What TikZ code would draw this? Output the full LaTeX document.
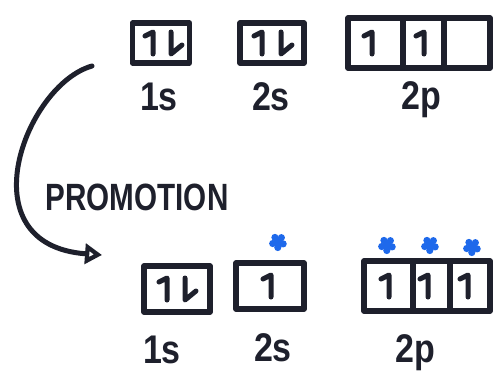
\documentclass[tikz,border=0pt]{standalone}
\usepackage{fontspec}
\setmainfont{Liberation Sans}
\usetikzlibrary{shapes.geometric,arrows.meta}
\definecolor{ink}{RGB}{30,32,44}
\definecolor{marker}{RGB}{30,105,235}
\begin{document}
\begin{tikzpicture}[x=1pt,y=-1pt,line cap=round,line join=round,
  orb/.style={draw=ink,line width=5.5pt,inner sep=0pt,outer sep=0pt},
  lbl/.style={text=ink,font=\bfseries\fontsize{40}{40}\selectfont,inner sep=0pt,xscale=0.85},
  elec/.style={draw=ink,line width=5pt},
  upspin/.pic={\draw[elec] (-8,-7) -- (0,-11) -- (0,11);},
  downspin/.pic={\draw[elec] (0,-11) -- (0,11) -- (11,2);},
  splat/.pic={\fill[marker] (0,0) circle (5);
    \foreach \a in {20,92,164,236,308}{\fill[marker] (\a:5.5) circle (3.6);}}]
\useasboundingbox (0,0) rectangle (493,380);
% top row
\node[orb,minimum width=57pt,minimum height=40pt] (t1s) at (161,43) {};
\node[orb,minimum width=64pt,minimum height=40pt] (t2s) at (272,43) {};
\node[orb,minimum width=55pt,minimum height=50pt] (t2pa) at (375.5,43) {};
\node[orb,minimum width=41pt,minimum height=50pt] (t2pb) at (423.5,43) {};
\node[orb,minimum width=46pt,minimum height=50pt] (t2pc) at (467,43) {};
\pic at (153,43) {upspin};
\pic at (171,43) {downspin};
\pic at (262,43) {upspin};
\pic at (281,43) {downspin};
\pic at (372,43) {upspin};
\pic at (424,43) {upspin};
\node[lbl] (lt1s) at (159,97) {1s};
\node[lbl] (lt2s) at (271,97) {2s};
\node[lbl] (lt2p) at (421,100) {2p};
% arrow
\node[text=ink,font=\bfseries\fontsize{38}{38}\selectfont,xscale=0.78,inner sep=0pt] (prom) at (137,197) {PROMOTION};
\coordinate (astart) at (92,66);
\coordinate (aend) at (102,255);
\draw[ink,line width=5pt,-{Triangle[open,length=17pt,width=20pt,line width=4.5pt]}] (astart) .. controls (25,85) and (-35,245) .. (aend);
% bottom row
\node[orb,minimum width=66pt,minimum height=46pt] (b1s) at (177,289) {};
\node[orb,minimum width=68pt,minimum height=46pt] (b2s) at (270,286) {};
\node[orb,minimum width=49pt,minimum height=50pt] (b2pa) at (388.5,286) {};
\node[orb,minimum width=37pt,minimum height=50pt] (b2pb) at (431.5,286) {};
\node[orb,minimum width=40pt,minimum height=50pt] (b2pc) at (470,286) {};
\pic at (167,289) {upspin};
\pic at (185,289) {downspin};
\pic at (271,286) {upspin};
\pic at (389,286) {upspin};
\pic at (428,286) {upspin};
\pic at (468,286) {upspin};
\coordinate (s1) at (278,242);
\coordinate (s2) at (387,245);
\coordinate (s3) at (430,245);
\coordinate (s4) at (472,247);
\pic at (s1) {splat};
\pic at (s2) {splat};
\pic at (s3) {splat};
\pic at (s4) {splat};
\node[lbl] (lb1s) at (162,350) {1s};
\node[lbl] (lb2s) at (273,348) {2s};
\node[lbl] (lb2p) at (415,353) {2p};
\end{tikzpicture}
\end{document}
